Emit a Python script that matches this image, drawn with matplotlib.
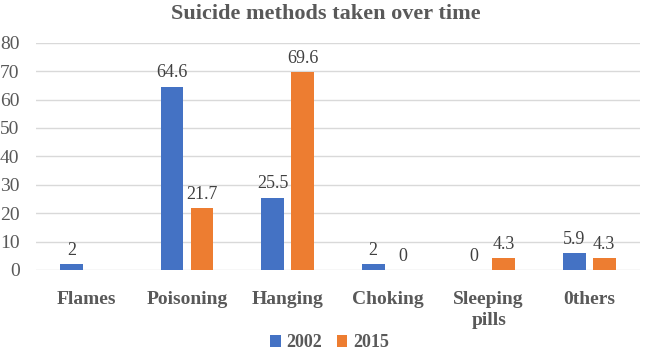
#!/usr/bin/env python3
"""Grouped bar chart: suicide methods in 2002 vs 2015."""

import numpy as np
import matplotlib
matplotlib.use("Agg")
import matplotlib.pyplot as plt

CATEGORIES = ["Flames", "Poisoning", "Hanging", "Choking", "Sleeping\npills", "0thers"]
VALUES_2002 = [2, 64.6, 25.5, 2, 0, 5.9]
VALUES_2015 = [np.nan, 21.7, 69.6, 0, 4.3, 4.3]
SERIES = ["2002", "2015"]
Y_TICKS = [0, 10, 20, 30, 40, 50, 60, 70, 80]

COLORS = {"2002": "#4472C4", "2015": "#ED7D31"}
TEXT_GRAY = "#595959"

plt.rcParams["font.family"] = ["Liberation Serif", "DejaVu Serif"]


def fmt(v):
    return f"{v:g}"


def main():
    fig = plt.figure(figsize=(6.46, 3.57), dpi=100)
    ax = fig.add_axes([0.056, 0.244, 0.934, 0.636])

    x = np.arange(len(CATEGORIES))
    width = 0.228
    offset = 0.149

    for vals, name, sign in [(VALUES_2002, "2002", -1), (VALUES_2015, "2015", 1)]:
        vals = np.array(vals, dtype=float)
        bars = ax.bar(x + sign * offset, np.nan_to_num(vals), width,
                      color=COLORS[name], label=name, zorder=3)
        for b, v in zip(bars, vals):
            if np.isnan(v):
                continue
            ax.text(b.get_x() + b.get_width() / 2, v + 1.8, fmt(v),
                    ha="center", va="bottom", fontsize=13, color="#404040")

    ax.set_ylim(0, 80)
    ax.set_xlim(-0.5, len(CATEGORIES) - 0.5)
    ax.set_yticks(Y_TICKS)
    ax.set_xticks(x)
    ax.set_xticklabels(CATEGORIES, fontsize=14, fontweight="bold",
                       color=TEXT_GRAY, linespacing=1.3)
    ax.tick_params(axis="y", labelsize=14, colors=TEXT_GRAY, length=0, pad=12)
    ax.tick_params(axis="x", length=0, pad=15)
    ax.grid(axis="y", color="#D9D9D9", linewidth=1, zorder=0)
    for s in ax.spines.values():
        s.set_visible(False)

    fig.suptitle("Suicide methods taken over time", x=0.505, y=0.99,
                 fontsize=16, fontweight="bold", color=TEXT_GRAY)

    fig.legend(loc="lower center", bbox_to_anchor=(0.51, -0.03), ncol=2,
               frameon=False, handlelength=0.6, handleheight=0.6,
               handletextpad=0.3, columnspacing=0.8,
               prop={"size": 13, "weight": "bold"}, labelcolor=TEXT_GRAY)

    fig.savefig("out.png", dpi=100)


if __name__ == "__main__":
    main()
